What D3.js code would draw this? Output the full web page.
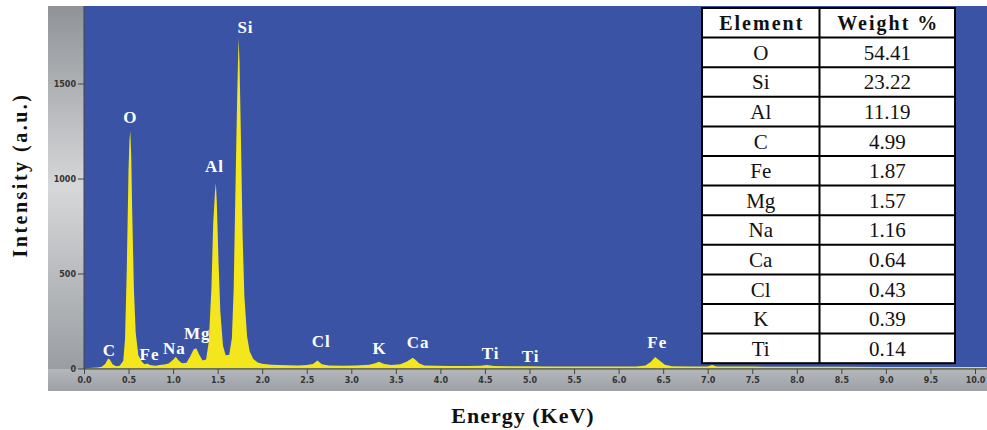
<!DOCTYPE html>
<html><head><meta charset="utf-8">
<script src="https://cdn.jsdelivr.net/npm/d3@7/dist/d3.min.js"></script>
<style>body{margin:0;background:#fff}svg{display:block}</style>
</head><body><svg id="c" width="987" height="430"></svg>
<script>
// ---- data ----
const energy = [0.00,0.05,0.10,0.15,0.20,0.24,0.27,0.29,0.32,0.36,0.40,0.44,0.46,0.48,0.50,0.51,0.52,0.53,0.54,0.56,0.58,0.61,0.65,0.68,0.71,0.74,0.80,0.85,0.90,0.95,1.00,1.03,1.06,1.10,1.15,1.19,1.23,1.26,1.29,1.33,1.37,1.40,1.43,1.45,1.47,1.48,1.49,1.51,1.53,1.56,1.59,1.63,1.66,1.68,1.70,1.72,1.735,1.745,1.76,1.78,1.80,1.83,1.86,1.90,1.95,2.00,2.10,2.20,2.30,2.40,2.50,2.57,2.62,2.67,2.75,2.90,3.05,3.20,3.26,3.31,3.37,3.45,3.55,3.62,3.66,3.69,3.72,3.76,3.82,3.95,4.10,4.30,4.45,4.52,4.60,4.80,5.00,5.20,5.50,5.80,6.00,6.20,6.30,6.36,6.41,6.46,6.52,6.60,6.80,7.00,7.05,7.10,7.50,8.00,8.50,9.00,9.50,10.13];
const counts = [0,3,4,5,9,25,52,48,22,12,14,40,150,520,1050,1200,1250,1120,850,420,190,70,35,22,26,18,15,18,21,26,46,62,44,28,30,62,100,106,76,42,48,140,420,760,930,975,880,560,300,120,70,72,160,420,950,1450,1740,1620,1250,700,380,170,90,50,32,25,20,18,17,16,18,24,42,22,16,15,16,20,26,35,24,18,22,36,48,56,46,28,16,14,13,13,15,18,13,12,12,11,11,10,10,11,16,34,60,42,20,12,11,11,18,10,10,9,9,8,8,8];
const peakLabels = ["C","O","Fe","Na","Mg","Al","Si","Cl","K","Ca","Ti","Ti","Fe"];
const peakEnergy = [0.28,0.516,0.73,1.01,1.265,1.46,1.807,2.657,3.311,3.745,4.557,5.006,6.428];
const peakCount = [66,1292,45,76,155,1034,1764,113,78,109,52,34,109];
const yTicks = [0,500,1000,1500];
const xTicks = [0,0.5,1,1.5,2,2.5,3,3.5,4,4.5,5,5.5,6,6.5,7,7.5,8,8.5,9,9.5,10];
const elements = ["O","Si","Al","C","Fe","Mg","Na","Ca","Cl","K","Ti"];
const weights = ["54.41","23.22","11.19","4.99","1.87","1.57","1.16","0.64","0.43","0.39","0.14"];
const tableHeader = ["Element","Weight %"];

// ---- layout ----
const svg = d3.select("#c");
const L = 84, R = 987, T = 6, B = 369;
const x = d3.scaleLinear().domain([0,10]).range([84,975]);
const y = d3.scaleLinear().domain([0,1500]).range([368.5,83.5]);

const defs = svg.append("defs");
const g1 = defs.append("linearGradient").attr("id","gl").attr("x1",0).attr("y1",0).attr("x2",0).attr("y2",1);
g1.append("stop").attr("offset","0").attr("stop-color","#8f9397");
g1.append("stop").attr("offset","0.5").attr("stop-color","#d6d7d9");
g1.append("stop").attr("offset","1").attr("stop-color","#9a9ea2");
const g2 = defs.append("linearGradient").attr("id","gb").attr("x1",0).attr("y1",0).attr("x2",0).attr("y2",1);
g2.append("stop").attr("offset","0").attr("stop-color","#b4b7bb");
g2.append("stop").attr("offset","1").attr("stop-color","#9da1a5");
defs.append("clipPath").attr("id","cp").append("rect").attr("x",L).attr("y",T).attr("width",R-L).attr("height",B-T);

svg.append("rect").attr("x",48).attr("y",T).attr("width",L-48).attr("height",B-T).attr("fill","url(#gl)");
svg.append("rect").attr("x",48).attr("y",B).attr("width",R-48).attr("height",391-B).attr("fill","url(#gb)");
svg.append("rect").attr("x",L).attr("y",T).attr("width",R-L).attr("height",B-T).attr("fill","#3a53a5");

const pts = energy.map((e,i)=>[e,counts[i]]);
const area = d3.area().x(d=>x(d[0])).y0(y(0)).y1(d=>y(d[1]));
svg.append("path").datum(pts).attr("clip-path","url(#cp)").attr("d",area).attr("fill","#f4e61c");

// axes
const ax = svg.append("g").attr("transform",`translate(0,${B})`).call(d3.axisBottom(x).tickValues(xTicks).tickFormat(d3.format(".1f")).tickSize(5).tickPadding(3));
ax.select(".domain").attr("d",`M${L},0H${R}`);
const ay = svg.append("g").attr("transform",`translate(${L},0)`).call(d3.axisLeft(y).tickValues(yTicks).tickFormat(d3.format("d")).tickSize(6).tickPadding(2));
ay.select(".domain").attr("d",`M0,${T}V${B}`);
svg.selectAll(".tick text").attr("font-family","DejaVu Sans").attr("font-weight","bold").attr("font-size","8px").attr("fill","#333");
svg.selectAll(".domain,.tick line").attr("stroke","#444");

// peak labels
svg.append("g").selectAll("text").data(peakLabels).join("text")
  .attr("x",(d,i)=>x(peakEnergy[i])+0.5).attr("y",(d,i)=>y(peakCount[i]))
  .attr("text-anchor","middle").attr("font-family","Liberation Serif").attr("font-weight","bold")
  .attr("font-size","17px").attr("letter-spacing","1px").attr("fill","#fff").text(d=>d);

// titles
svg.append("text").attr("transform","translate(27,175) rotate(-90)").attr("text-anchor","middle")
  .attr("font-family","Liberation Serif").attr("font-weight","bold").attr("font-size","20px").attr("letter-spacing","2.5px").attr("fill","#111").text("Intensity (a.u.)");
svg.append("text").attr("x",523).attr("y",423).attr("text-anchor","middle")
  .attr("font-family","Liberation Serif").attr("font-weight","bold").attr("font-size","22px").attr("letter-spacing","1px").attr("fill","#111").text("Energy (KeV)");

// table
const tx = 702, tw = 253, cx = 819.5, ty = 8, rh = 29.6;
const rows = [tableHeader].concat(elements.map((e,i)=>[e,weights[i]]));
const tg = svg.append("g");
tg.append("rect").attr("x",tx).attr("y",ty).attr("width",tw).attr("height",rh*rows.length).attr("fill","#fff");
rows.forEach((r,i)=>{
  const cy = ty + rh*i + rh/2;
  [ (tx+cx)/2, (cx+tx+tw)/2 ].forEach((px,j)=>{
    tg.append("text").attr("x",px + (i===0?1:0)).attr("y",cy).attr("dy","0.35em").attr("text-anchor","middle")
      .attr("font-family","Liberation Serif").attr("font-weight",i===0?"bold":"normal")
      .attr("letter-spacing",i===0?"2px":"0px")
      .attr("font-size",i===0?"20px":"21px").attr("fill","#111").text(r[j]);
  });
  if(i>0) tg.append("line").attr("x1",tx).attr("x2",tx+tw).attr("y1",ty+rh*i).attr("y2",ty+rh*i).attr("stroke","#000").attr("stroke-width",2);
});
tg.append("line").attr("x1",cx).attr("x2",cx).attr("y1",ty).attr("y2",ty+rh*rows.length).attr("stroke","#000").attr("stroke-width",2);
tg.append("rect").attr("x",tx).attr("y",ty).attr("width",tw).attr("height",rh*rows.length).attr("fill","none").attr("stroke","#000").attr("stroke-width",2);
</script></body></html>
